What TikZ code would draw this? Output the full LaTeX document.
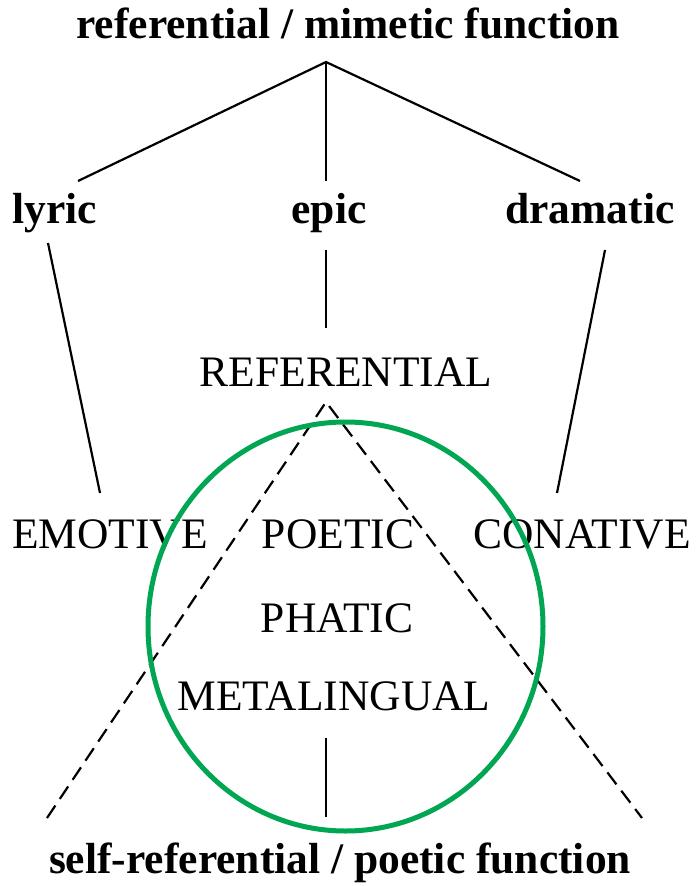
\documentclass[tikz,border=0pt]{standalone}
\usepackage{fontspec}
\setmainfont{Liberation Serif}
\definecolor{ringgreen}{RGB}{0,166,81}
\begin{document}
\begin{tikzpicture}[x=1pt,y=-1pt,
  boldlab/.style={anchor=base,inner sep=0pt,font=\fontsize{43.5}{43.5}\selectfont\bfseries},
  caplab/.style={anchor=base,inner sep=0pt,font=\fontsize{43.5}{43.5}\selectfont},
  tie/.style={line width=2.2pt},
  dashtie/.style={line width=2.2pt,dash pattern=on 15pt off 8pt},
  ring/.style={draw=ringgreen,line width=5pt}]
\useasboundingbox (0,0) rectangle (698,886);
\node[boldlab] (top) at (348,38) {referential / mimetic function};
\node[boldlab] (lyric) at (55,223) {lyric};
\node[boldlab] (epic) at (329,223) {epic};
\node[boldlab] (dram) at (590,223) {dramatic};
\node[caplab] (ref) at (346,386) {REFERENTIAL};
\node[caplab] (emo) at (110,548) {EMOTIVE};
\node[caplab] (poe) at (338,548) {POETIC};
\node[caplab] (con) at (582,548) {CONATIVE};
\node[caplab] (pha) at (337,632) {PHATIC};
\node[caplab] (meta) at (334,710) {METALINGUAL};
\node[boldlab] (bot) at (340,873) {self-referential / poetic function};
\coordinate (apex) at (326,62);
\coordinate (lyrT) at (78,181);
\coordinate (epT) at (326,181);
\coordinate (drT) at (580,181);
\coordinate (lyrB) at (48,243);
\coordinate (emoT) at (100,493);
\coordinate (epB) at (326,250);
\coordinate (refT) at (326,328);
\coordinate (drB) at (605,250);
\coordinate (conT) at (557,493);
\coordinate (tri) at (326,402);
\coordinate (triL) at (47,818);
\coordinate (triR) at (642,818);
\coordinate (metaB) at (326,738);
\coordinate (botT) at (326,817);
\draw[tie] (lyrT) -- (apex) -- (drT);
\draw[tie] (apex) -- (epT);
\draw[tie] (lyrB) -- (emoT);
\draw[tie] (epB) -- (refT);
\draw[tie] (drB) -- (conT);
\draw[dashtie] (triL) -- (tri) -- (triR);
\draw[tie] (metaB) -- (botT);
\draw[ring] (345.5,626.5) ellipse [x radius=197.5, y radius=204.5];
\end{tikzpicture}
\end{document}
